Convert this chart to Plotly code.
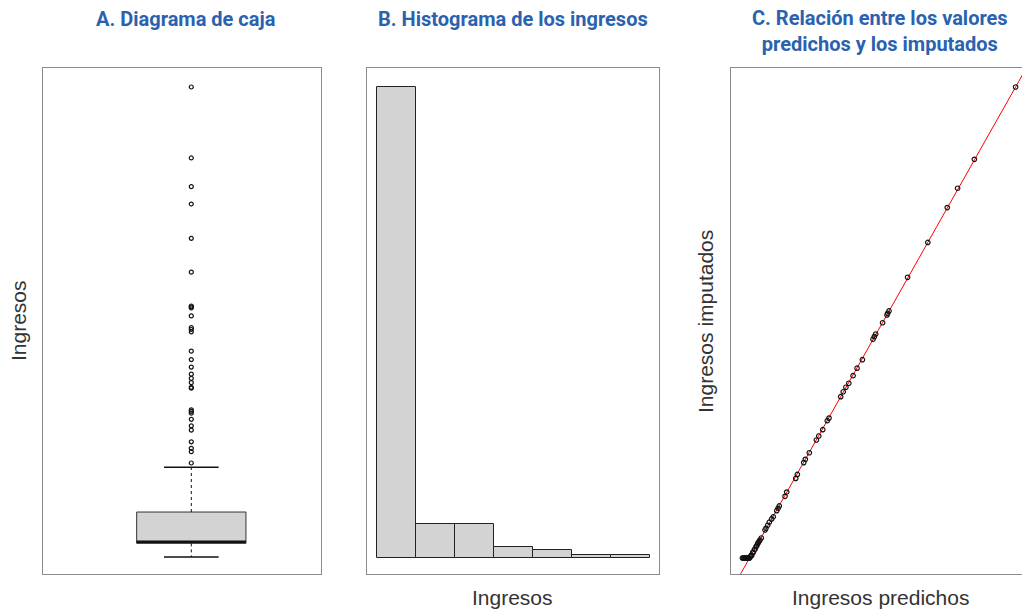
import plotly.graph_objects as go

# ---------------- Data ----------------
# A. Box plot (ingresos)
box_lower_whisker = 0
box_q1 = 2900
box_median = 3250
box_q3 = 9570
box_upper_whisker = 19100
box_outliers = [100000, 84900, 78800, 75100, 67800, 60600, 53400, 53200, 53000,
                51300, 48800, 48400, 47900, 43800, 42000, 40400, 38900, 38000,
                37100, 36100, 35900, 31300, 31000, 30600, 29300, 27900, 27000,
                24500, 23100, 22400, 20000]

# B. Histogram (ingresos)
hist_edges = [0, 15000, 30000, 45000, 60000, 75000, 90000, 105000]
hist_counts = [286, 21, 21, 7, 5, 2, 2]

# C. Predicted vs imputed
pred = [100000, 84500, 78200, 74300, 67000, 59400, 52400, 51900, 51650, 50000,
        47400, 46900, 46400, 42400, 40400, 38900, 37300, 36200, 35200, 34250,
        29850, 29200, 27500, 26000, 25100, 22450, 20950, 20350, 17950, 17350,
        13950, 13300, 11150, 10700, 10200, 8900, 8300, 7400, 6800, 6150, 5800,
        4400, 3900, 3250, 2650, 2050, 1400, 800,
        3600, 3000, 2400, 1800, 1200, 600, 300,
        -2700, -2400, -2100, -1800, -1500, -1200, -900, -600, -300, 0]
imput = [100000, 84650, 78500, 74400, 67000, 59600, 52450, 51950, 51600, 49950,
         47550, 47000, 46450, 42100, 40300, 38700, 37100, 36250, 35300, 34250,
         29700, 29150, 27250, 25900, 25050, 22350, 20950, 20250, 17750, 16900,
         14000, 13100, 11050, 10550, 10050, 8750, 8300, 7600, 6950, 6300, 5950,
         4250, 3800, 3250, 2550, 1850, 1200, 550,
         3550, 3000, 2400, 1800, 1200, 600, 300,
         0, 0, 0, 0, 0, 0, 0, 0, 0, 0]
identity_line = [-10000, 110000]

# ---------------- Styling ----------------
W, H = 1022, 609
title_color = "#2a62b0"
frame_color = "#8c8c8c"
fill_grey = "#d3d3d3"
label_font = dict(family="Liberation Sans, Arial, sans-serif", size=21, color="#333333")
title_font = dict(family="Roboto, Arial, sans-serif", size=20, color=title_color)

def px_x(p):
    return p / W

def px_y(p):
    return 1 - p / H

ydom = [px_y(574), px_y(68)]

fig = go.Figure()

# ---- A. Box plot ----
c, w, cw = 1.0, 0.4, 0.2
fig.add_trace(go.Scatter(
    x=[c - w, c + w, c + w, c - w, c - w],
    y=[box_q1, box_q1, box_q3, box_q3, box_q1],
    mode="lines", fill="toself", fillcolor=fill_grey,
    line=dict(color="#333333", width=1), xaxis="x", yaxis="y", hoverinfo="skip"))
fig.add_trace(go.Scatter(
    x=[c - w, c + w], y=[box_median, box_median], mode="lines",
    line=dict(color="#111111", width=2.6), xaxis="x", yaxis="y"))
fig.add_trace(go.Scatter(
    x=[c, c, None, c, c], y=[box_q3, box_upper_whisker, None, box_q1, box_lower_whisker],
    mode="lines", line=dict(color="#111111", width=1, dash="3px,3px"),
    xaxis="x", yaxis="y"))
fig.add_trace(go.Scatter(
    x=[c - cw, c + cw, None, c - cw, c + cw],
    y=[box_upper_whisker, box_upper_whisker, None, box_lower_whisker, box_lower_whisker],
    mode="lines", line=dict(color="#111111", width=1.3), xaxis="x", yaxis="y"))
fig.add_trace(go.Scatter(
    x=[c] * len(box_outliers), y=box_outliers, mode="markers",
    marker=dict(symbol="circle-open", size=4, color="#111111", line=dict(width=1.2)),
    xaxis="x", yaxis="y"))

# ---- B. Histogram ----
centers = [(hist_edges[i] + hist_edges[i + 1]) / 2 for i in range(len(hist_counts))]
widths = [hist_edges[i + 1] - hist_edges[i] for i in range(len(hist_counts))]
fig.add_trace(go.Bar(
    x=centers, y=hist_counts, width=widths,
    marker=dict(color=fill_grey, line=dict(color="#222222", width=1)),
    xaxis="x2", yaxis="y2"))

# ---- C. Scatter ----
fig.add_trace(go.Scatter(
    x=identity_line, y=identity_line, mode="lines",
    line=dict(color="#ff0000", width=1), xaxis="x3", yaxis="y3"))
fig.add_trace(go.Scatter(
    x=pred, y=imput, mode="markers",
    marker=dict(symbol="circle-open", size=4.5, color="#111111", line=dict(width=1.2)),
    xaxis="x3", yaxis="y3"))

axis_common = dict(showgrid=False, zeroline=False, showticklabels=False, ticks="",
                   showline=True, linecolor=frame_color, linewidth=1)

fig.update_layout(
    width=W, height=H, margin=dict(l=0, r=0, t=0, b=0),
    paper_bgcolor="white", plot_bgcolor="white", showlegend=False, bargap=0,
    xaxis=dict(domain=[px_x(43), px_x(321)], range=[1 - 148.3 / 136.6, 1 + 129.7 / 136.6],
               mirror=True, **axis_common),
    yaxis=dict(domain=ydom, range=[-3617, 104043], mirror=True, **axis_common),
    xaxis2=dict(domain=[px_x(367), px_x(659)], range=[-3842, 108456], anchor="y2",
                mirror=True, **axis_common),
    yaxis2=dict(domain=ydom, range=[-9.52, 297.3], anchor="x2", mirror=True, **axis_common),
    xaxis3=dict(domain=[px_x(731), 1.0], range=[-6992, 102406], anchor="y3",
                mirror=True, **axis_common),
    yaxis3=dict(domain=ydom, range=[-3397, 104034], anchor="x3", mirror=False, **axis_common),
)

annotations = [
    dict(text="<b>A. Diagrama de caja</b>", x=px_x(186), y=px_y(19), font=title_font),
    dict(text="<b>B. Histograma de los ingresos</b>", x=px_x(513), y=px_y(19), font=title_font),
    dict(text="<b>C. Relación entre los valores<br>predichos y los imputados</b>",
         x=px_x(880), y=px_y(31), font=title_font),
    dict(text="Ingresos", x=px_x(18), y=px_y(321), textangle=-90, font=label_font),
    dict(text="Ingresos", x=px_x(512), y=px_y(597), font=label_font),
    dict(text="Ingresos imputados", x=px_x(705), y=px_y(322), textangle=-90, font=label_font),
    dict(text="Ingresos predichos", x=px_x(880), y=px_y(597), font=label_font),
]
for a in annotations:
    a.update(xref="paper", yref="paper", xanchor="center", yanchor="middle", showarrow=False)
fig.update_layout(annotations=annotations)

fig.write_html("out.html")
